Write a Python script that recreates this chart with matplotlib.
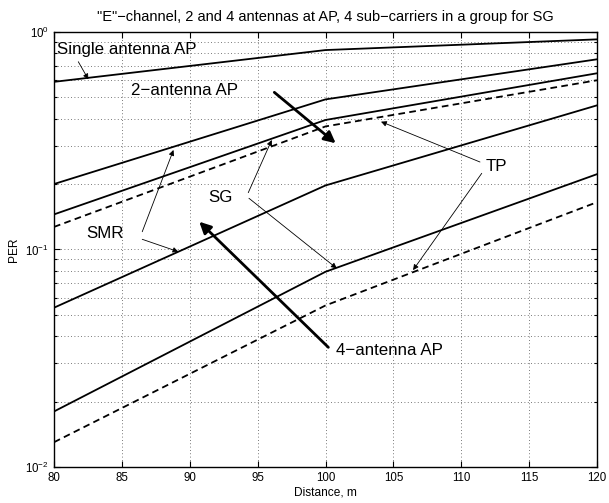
import numpy as np
import matplotlib
matplotlib.use("Agg")
import matplotlib.pyplot as plt
from matplotlib.ticker import LogLocator, NullFormatter, FixedLocator

plt.rcParams['font.family'] = ['Liberation Sans', 'DejaVu Sans']
plt.rcParams['mathtext.fontset'] = 'custom'
plt.rcParams['mathtext.rm'] = 'Liberation Sans'
plt.rcParams['mathtext.it'] = 'Liberation Sans:italic'
plt.rcParams['mathtext.bf'] = 'Liberation Sans:bold'

# ---- data ----
distance = [80, 100, 120]
single_ap = [0.59, 0.826, 0.925]
two_smr = [0.20, 0.49, 0.749]
two_sg = [0.145, 0.394, 0.646]
two_tp = [0.127, 0.368, 0.60]
four_smr = [0.054, 0.197, 0.46]
four_sg = [0.018, 0.079, 0.222]
four_tp = [0.0130, 0.0553, 0.165]
x_ticks = [80, 85, 90, 95, 100, 105, 110, 115, 120]

title = '"E"\u2212channel, 2 and 4 antennas at AP, 4 sub\u2212carriers in a group for SG'

fig = plt.figure(figsize=(6.09, 5.03), dpi=100)
ax = fig.add_axes([54/609, 36/503, (597-54)/609, (467-32)/503])

lw = 1.3
dash = (0, (3.7, 2.4))
for ys in [single_ap, two_smr, two_sg, four_smr, four_sg]:
    ax.plot(distance, ys, color='k', lw=lw)
for ys in [two_tp, four_tp]:
    ax.plot(distance, ys, color='k', lw=lw, linestyle=dash)

ax.set_yscale('log')
ax.set_xlim(80, 120)
ax.set_ylim(1e-2, 1)
ax.xaxis.set_major_locator(FixedLocator(x_ticks))
ax.yaxis.set_major_locator(LogLocator(base=10, numticks=5))
ax.yaxis.set_minor_locator(LogLocator(base=10, subs=np.arange(2, 10), numticks=20))
ax.yaxis.set_minor_formatter(NullFormatter())

grid_kw = dict(color='0.3', linestyle=(0, (1, 3)), lw=0.6)
ax.grid(True, which='major', axis='both', **grid_kw)
ax.grid(True, which='minor', axis='y', **grid_kw)

ax.tick_params(which='both', direction='in', top=True, right=True, labelsize=8.3, width=0.8)
ax.tick_params(which='major', length=4)
ax.tick_params(which='minor', length=2.2)
for s in ax.spines.values():
    s.set_linewidth(1.0)

ax.set_title(title, fontsize=10.5, pad=8)
ax.set_xlabel('Distance, m', fontsize=8.6, labelpad=2)
ax.set_ylabel('PER', fontsize=8.6, labelpad=4)

tfs = 12.2
thin = dict(arrowstyle='-|>', lw=0.6, color='k', mutation_scale=8, shrinkA=0, shrinkB=0)
thick = dict(arrowstyle='-|>', lw=2.0, color='k', mutation_scale=17, shrinkA=0, shrinkB=0)

ax.text(80.22, 0.835, 'Single antenna AP', fontsize=tfs, ha='left', va='center')
ax.annotate('', xy=(82.53, 0.606), xytext=(81.79, 0.730), arrowprops=thin)

ax.text(85.67, 0.541, '2\u2212antenna AP', fontsize=tfs, ha='left', va='center')
ax.annotate('', xy=(100.75, 0.308), xytext=(96.23, 0.528), arrowprops=thick)

ax.text(92.30, 0.1725, 'SG', fontsize=tfs, ha='center', va='center')
ax.annotate('', xy=(96.04, 0.3188), xytext=(94.31, 0.1825), arrowprops=thin)
ax.annotate('', xy=(100.83, 0.0819), xytext=(94.36, 0.172), arrowprops=thin)

ax.text(83.79, 0.119, 'SMR', fontsize=tfs, ha='center', va='center')
ax.annotate('', xy=(88.80, 0.2868), xytext=(86.50, 0.1207), arrowprops=thin)
ax.annotate('', xy=(89.16, 0.0977), xytext=(86.50, 0.1114), arrowprops=thin)

ax.text(112.56, 0.242, 'TP', fontsize=tfs, ha='center', va='center')
ax.annotate('', xy=(104.09, 0.387), xytext=(111.38, 0.2525), arrowprops=thin)
ax.annotate('', xy=(106.45, 0.0804), xytext=(111.51, 0.224), arrowprops=thin)

ax.text(100.77, 0.0345, '4\u2212antenna AP', fontsize=tfs, ha='left', va='center')
ax.annotate('', xy=(90.70, 0.1342), xytext=(100.21, 0.0355), arrowprops=thick)

fig.savefig('out.png', dpi=100)
